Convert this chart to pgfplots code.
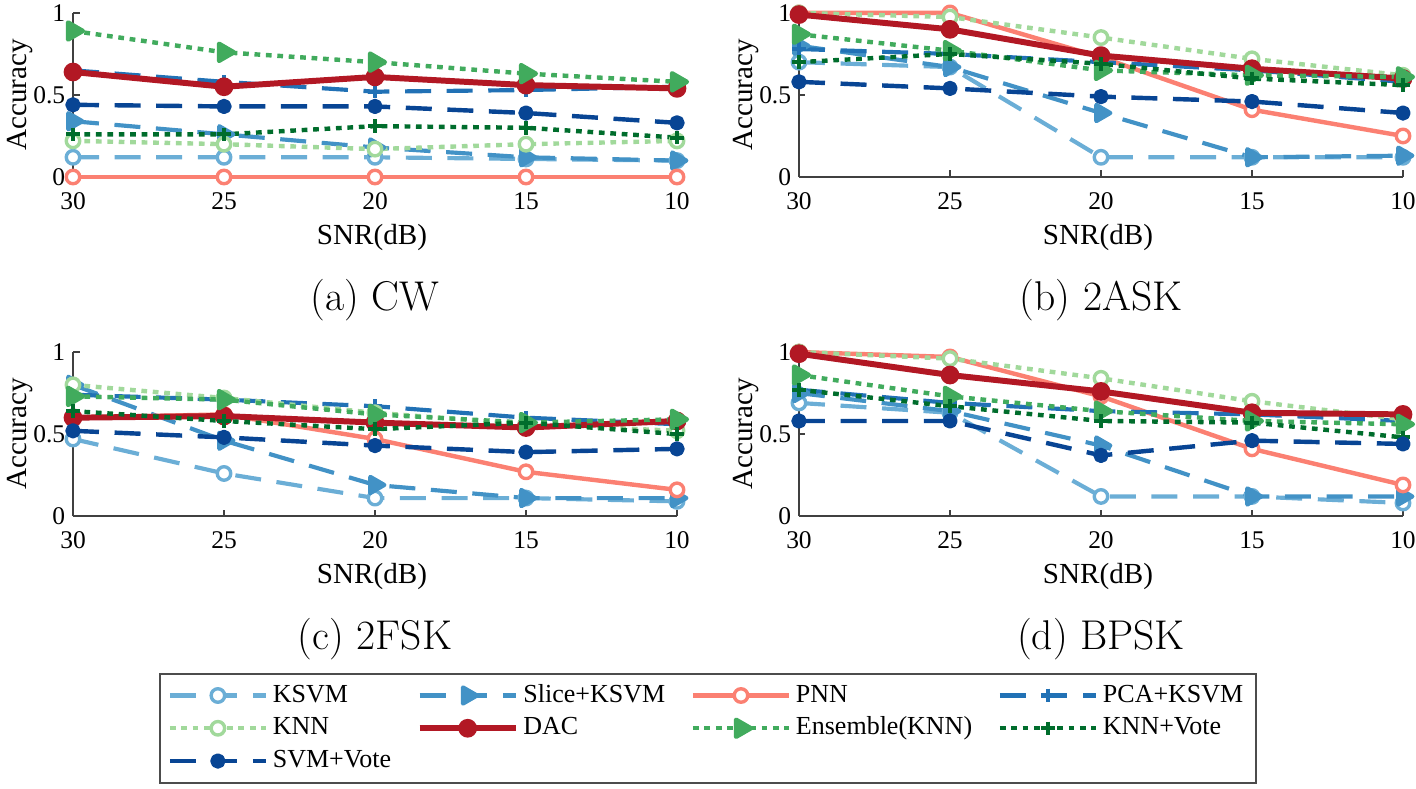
\documentclass[border=0pt]{standalone}
\usepackage{fontspec}
\usepackage{pgfplots}
\usepackage{pgfplotstable}
\pgfplotsset{compat=1.18}
\newfontfamily\tnr{Liberation Serif}

\definecolor{cKSVM}{RGB}{107,174,214}
\definecolor{cSlice}{RGB}{66,146,198}
\definecolor{cPNN}{RGB}{251,128,114}
\definecolor{cPCA}{RGB}{33,113,181}
\definecolor{cKNN}{RGB}{161,217,155}
\definecolor{cDAC}{RGB}{178,24,36}
\definecolor{cEns}{RGB}{65,171,93}
\definecolor{cKNNV}{RGB}{0,109,44}
\definecolor{cSVMV}{RGB}{8,69,148}

\pgfplotstableread{
snr ksvm slice pnn pca knn dac ens knnv svmv
30 0.12 0.34 0 0.65 0.22 0.64 0.89 0.26 0.44
25 0.12 0.26 0 0.58 0.20 0.55 0.76 0.26 0.43
20 0.12 0.18 0 0.52 0.17 0.61 0.70 0.31 0.43
15 0.11 0.12 0 0.53 0.20 0.56 0.63 0.30 0.39
10 0.10 0.10 0 0.55 0.22 0.54 0.58 0.24 0.33
}\tA
\pgfplotstableread{
snr ksvm slice pnn pca knn dac ens knnv svmv
30 0.70 0.80 1.00 0.78 1.00 0.99 0.87 0.70 0.58
25 0.67 0.67 1.00 0.75 0.975 0.90 0.77 0.75 0.54
20 0.12 0.39 0.73 0.70 0.85 0.74 0.65 0.69 0.49
15 0.12 0.12 0.41 0.65 0.72 0.66 0.62 0.60 0.46
10 0.12 0.13 0.25 0.58 0.62 0.60 0.61 0.56 0.39
}\tB
\pgfplotstableread{
snr ksvm slice pnn pca knn dac ens knnv svmv
30 0.47 0.80 0.60 0.74 0.80 0.60 0.73 0.64 0.52
25 0.26 0.46 0.62 0.71 0.72 0.61 0.71 0.58 0.48
20 0.11 0.19 0.47 0.67 0.63 0.57 0.62 0.53 0.43
15 0.11 0.11 0.27 0.60 0.56 0.54 0.57 0.57 0.39
10 0.09 0.11 0.16 0.56 0.52 0.58 0.59 0.50 0.41
}\tC
\pgfplotstableread{
snr ksvm slice pnn pca knn dac ens knnv svmv
30 0.69 0.75 1.00 0.77 1.00 0.99 0.86 0.77 0.58
25 0.63 0.64 0.97 0.69 0.96 0.86 0.73 0.67 0.58
20 0.12 0.43 0.73 0.64 0.84 0.76 0.64 0.58 0.37
15 0.12 0.12 0.41 0.62 0.70 0.63 0.58 0.57 0.46
10 0.08 0.12 0.19 0.58 0.59 0.62 0.56 0.48 0.44
}\tD

\pgfplotsset{
  panel/.style={
    scale only axis, width=232.3pt, height=63.1pt,
    xmin=10, xmax=30, ymin=0, ymax=1, x dir=reverse,
    axis x line*=bottom, axis y line*=left,
    xtick={10,15,20,25,30}, ytick={0,0.5,1},
    tick align=inside, major tick length=2.5pt,
    tick style={black!75, line width=0.6pt},
    axis line style={black!75, line width=0.6pt},
    /pgf/number format/assume math mode=true,
    ticklabel style={font=\tnr\fontsize{9.8}{12}\selectfont},
    xticklabel style={yshift=-2.4pt},
    yticklabel style={xshift=0.5pt},
    xlabel={SNR(dB)}, ylabel={Accuracy},
    label style={font=\tnr\fontsize{11.2}{13}\selectfont},
    xlabel style={at={(axis description cs:0.495,-0.366)}, anchor=center},
    ylabel style={at={(axis description cs:-0.088,0.5)}, anchor=center},
    clip=false,
    every axis plot/.append style={line join=round},
  },
  dsh/.style={dash pattern=on 10pt off 6pt},
  dtt/.style={dash pattern=on 2.2pt off 2.2pt},
  ring/.style={mark=*, mark size=2.6pt, mark options={solid, fill=white, line width=1.3pt}},
  sKSVM/.style={color=cKSVM, line width=1.6pt, dsh, ring},
  sSlice/.style={color=cSlice, line width=1.6pt, dsh, mark=triangle*, mark size=3.6pt, mark options={solid, rotate=-90, fill=cSlice}},
  sPNN/.style={color=cPNN, line width=1.7pt, solid, ring},
  sPCA/.style={color=cPCA, line width=1.6pt, dsh, mark=+, mark size=2.6pt, mark options={solid, line width=1.5pt}},
  sKNN/.style={color=cKNN, line width=1.7pt, dtt, ring},
  sDAC/.style={color=cDAC, line width=2.3pt, solid, mark=*, mark size=3pt, mark options={solid, fill=cDAC, line width=1.2pt}},
  sEns/.style={color=cEns, line width=1.7pt, dtt, mark=triangle*, mark size=3.8pt, mark options={solid, rotate=-90, fill=cEns}},
  sKNNV/.style={color=cKNNV, line width=1.7pt, dtt, mark=+, mark size=2.6pt, mark options={solid, line width=1.6pt}},
  sSVMV/.style={color=cSVMV, line width=1.7pt, dsh, mark=*, mark size=2.1pt, mark options={solid}},
}

\newcommand\plotall[1]{%
  \addplot[sKSVM] table[x=snr,y=ksvm]{#1};
  \addplot[sSlice] table[x=snr,y=slice]{#1};
  \addplot[sPNN] table[x=snr,y=pnn]{#1};
  \addplot[sPCA] table[x=snr,y=pca]{#1};
  \addplot[sKNN] table[x=snr,y=knn]{#1};
  \addplot[sDAC] table[x=snr,y=dac]{#1};
  \addplot[sEns] table[x=snr,y=ens]{#1};
  \addplot[sKNNV] table[x=snr,y=knnv]{#1};
  \addplot[sSVMV] table[x=snr,y=svmv]{#1};
}

\begin{document}
\begin{tikzpicture}
\useasboundingbox (0,0) rectangle (544.6pt,-303.1pt);
\begin{axis}[panel, at={(28.08pt,-68.07pt)}, anchor=south west]
\plotall{\tA}
\node[font=\fontsize{16}{19}\selectfont] at (axis description cs:0.5,-0.75) {(a) CW};
\end{axis}
\begin{axis}[panel, at={(307.3pt,-68.07pt)}, anchor=south west]
\plotall{\tB}
\node[font=\fontsize{16}{19}\selectfont] at (axis description cs:0.5,-0.75) {(b) 2ASK};
\end{axis}
\begin{axis}[panel, at={(28.08pt,-198.5pt)}, anchor=south west,
  legend columns=4, legend cell align=left,
  legend entries={KSVM,Slice+KSVM,PNN,PCA+KSVM,KNN,DAC,Ensemble(KNN),KNN+Vote,SVM+Vote},
  legend image code/.code={\draw[mark repeat=2,mark phase=2,#1] plot coordinates {(0pt,0pt) (18.5pt,0pt) (37pt,0pt)};},
  legend style={at={(axis description cs:1.051,-1.293)}, anchor=center, draw=black!70, line width=0.8pt,
    font=\tnr\fontsize{10}{12}\selectfont, inner xsep=3pt, inner ysep=2pt,
    nodes={inner sep=1.8pt, text height=7pt, text depth=2pt},
    /tikz/every even column/.append style={column sep=8pt}}]
\plotall{\tC}
\node[font=\fontsize{16}{19}\selectfont] at (axis description cs:0.5,-0.75) {(c) 2FSK};
\end{axis}
\begin{axis}[panel, at={(307.3pt,-198.5pt)}, anchor=south west]
\plotall{\tD}
\node[font=\fontsize{16}{19}\selectfont] at (axis description cs:0.5,-0.75) {(d) BPSK};
\end{axis}
\end{tikzpicture}
\end{document}
